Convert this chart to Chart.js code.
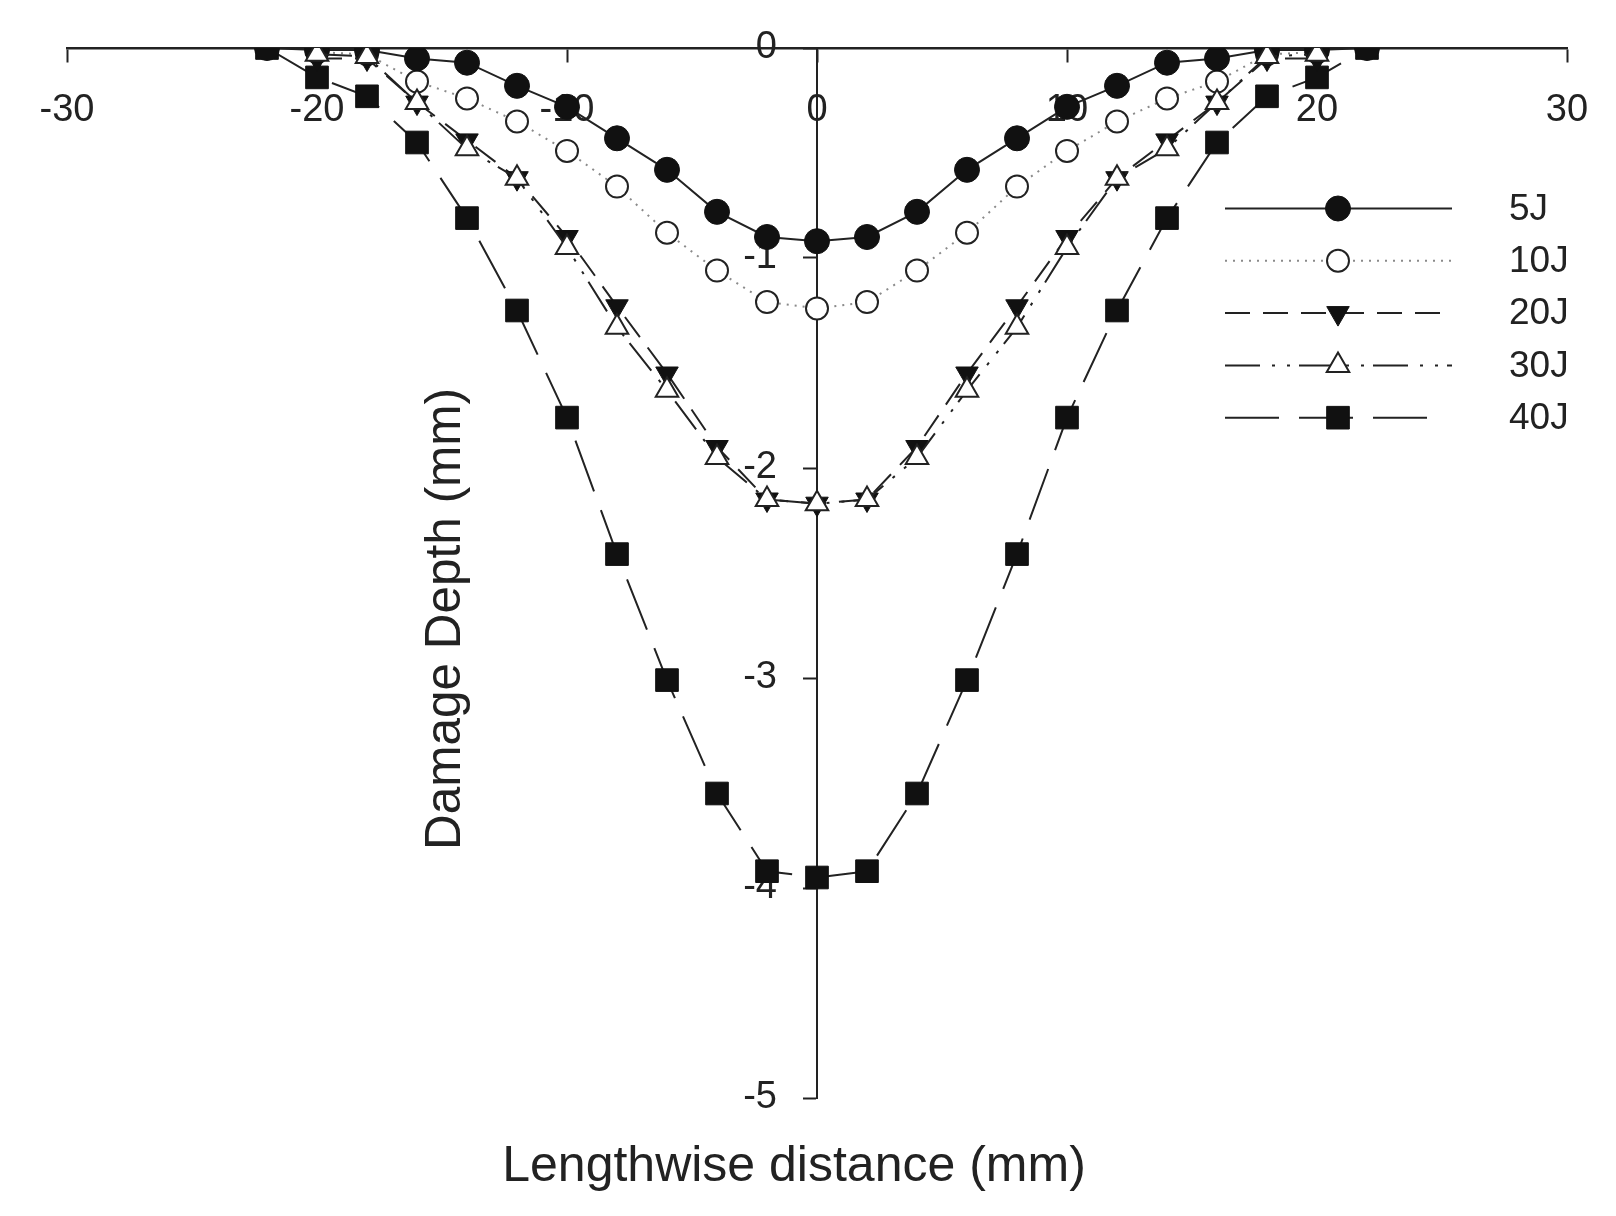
<!DOCTYPE html>
<html>
<head>
<meta charset="utf-8">
<script src="https://cdn.jsdelivr.net/npm/chart.js@4.4.1/dist/chart.umd.min.js"></script>
<style>
  html, body { margin: 0; background: #fff; }
  #wrap { position: relative; width: 1616px; height: 1216px; }
</style>
</head>
<body>
<div id="wrap"><canvas id="depthChart" width="1616" height="1216"></canvas></div>
<script>
// measured every 2 mm along the specimen
const distances = [-22, -20, -18, -16, -14, -12, -10, -8, -6, -4, -2, 0, 2, 4, 6, 8, 10, 12, 14, 16, 18, 20, 22];

const depth5J  = [0, -0.01, -0.01, -0.05, -0.07, -0.18, -0.28, -0.43, -0.58, -0.78, -0.90, -0.92, -0.90, -0.78, -0.58, -0.43, -0.28, -0.18, -0.07, -0.05, -0.01, -0.01, 0];
const depth10J = [null, -0.02, -0.03, -0.16, -0.24, -0.35, -0.49, -0.66, -0.88, -1.06, -1.21, -1.24, -1.21, -1.06, -0.88, -0.66, -0.49, -0.35, -0.24, -0.16, -0.03, -0.02, null];
const depth20J = [null, -0.05, -0.05, -0.26, -0.44, -0.62, -0.90, -1.23, -1.55, -1.90, -2.15, -2.17, -2.15, -1.90, -1.55, -1.23, -0.90, -0.62, -0.44, -0.26, -0.05, -0.05, null];
const depth30J = [null, -0.03, -0.04, -0.26, -0.48, -0.62, -0.95, -1.33, -1.63, -1.95, -2.15, -2.17, -2.15, -1.95, -1.63, -1.33, -0.95, -0.62, -0.48, -0.26, -0.04, -0.03, null];
const depth40J = [0, -0.14, -0.23, -0.45, -0.81, -1.25, -1.76, -2.41, -3.01, -3.55, -3.92, -3.95, -3.92, -3.55, -3.01, -2.41, -1.76, -1.25, -0.81, -0.45, -0.23, -0.14, 0];

const seriesLabels = ['5J', '10J', '20J', '30J', '40J'];
const xTickValues = [-30, -20, -10, 0, 10, 20, 30];
const yTickValues = [0, -1, -2, -3, -4, -5];

const FONT = '"Liberation Sans", Arial, sans-serif';
const INK = '#222';

function points(values) {
  return distances
    .map((x, i) => ({ x, y: values[i] }))
    .filter((p) => p.y !== null);
}

const datasets = [
  {
    label: seriesLabels[0], data: points(depth5J), order: 1, legendEnd: 1452,
    borderColor: INK, borderWidth: 2, borderDash: [],
    pointStyle: 'circle', pointRadius: 12.5, pointRotation: 0,
    pointBackgroundColor: '#111', pointBorderColor: '#111', pointBorderWidth: 1,
  },
  {
    label: seriesLabels[1], data: points(depth10J), order: 3, legendEnd: 1452,
    borderColor: '#8a8a8a', borderWidth: 2, borderDash: [2, 6],
    pointStyle: 'circle', pointRadius: 11, pointRotation: 0,
    pointBackgroundColor: '#fff', pointBorderColor: INK, pointBorderWidth: 2,
  },
  {
    label: seriesLabels[2], data: points(depth20J), order: 2, legendEnd: 1450,
    borderColor: INK, borderWidth: 2, borderDash: [25, 13],
    pointStyle: 'triangle', pointRadius: 13, pointRotation: 180,
    pointBackgroundColor: '#111', pointBorderColor: '#111', pointBorderWidth: 1,
  },
  {
    label: seriesLabels[3], data: points(depth30J), order: 0, legendEnd: 1452,
    borderColor: INK, borderWidth: 2, borderDash: [35, 12, 3, 12, 3, 9],
    pointStyle: 'triangle', pointRadius: 13, pointRotation: 0,
    pointBackgroundColor: '#fff', pointBorderColor: INK, pointBorderWidth: 2,
  },
  {
    label: seriesLabels[4], data: points(depth40J), order: 4, legendEnd: 1430,
    borderColor: INK, borderWidth: 2, borderDash: [54, 20],
    pointStyle: 'rect', pointRadius: 16, pointRotation: 0,
    pointBackgroundColor: '#111', pointBorderColor: '#111', pointBorderWidth: 1,
  },
];

// y tick labels are drawn here because Chart.js puts them right on the axis
// when the axis sits at x = 0
const yLabels = {
  id: 'yLabels',
  beforeDatasetsDraw(chart) {
    const { ctx, scales: { x, y } } = chart;
    const axisX = x.getPixelForValue(0);
    ctx.save();
    ctx.font = `38px ${FONT}`;
    ctx.fillStyle = INK;
    ctx.textAlign = 'right';
    ctx.textBaseline = 'middle';
    y.ticks.forEach((t) => {
      ctx.fillText(String(t.value), axisX - 40, y.getPixelForValue(t.value));
    });
    ctx.restore();
  },
};

function drawMarker(ctx, ds, cx, cy) {
  ctx.setLineDash([]);
  ctx.fillStyle = ds.pointBackgroundColor;
  ctx.strokeStyle = ds.pointBorderColor;
  ctx.lineWidth = ds.pointBorderWidth;
  Chart.helpers.drawPoint(ctx, {
    pointStyle: ds.pointStyle,
    radius: ds.pointRadius,
    rotation: ds.pointRotation,
    borderWidth: ds.pointBorderWidth,
  }, cx, cy);
}

const legendAndTitles = {
  id: 'legendAndTitles',
  afterDraw(chart) {
    const { ctx } = chart;
    ctx.save();

    // legend
    datasets.forEach((ds, i) => {
      const rowY = 208.5 + i * 52.3;
      ctx.strokeStyle = ds.borderColor;
      ctx.lineWidth = ds.borderWidth;
      ctx.setLineDash(ds.borderDash);
      ctx.beginPath();
      ctx.moveTo(1225, rowY);
      ctx.lineTo(ds.legendEnd, rowY);
      ctx.stroke();
      drawMarker(ctx, ds, 1338, rowY);
      ctx.font = `37px ${FONT}`;
      ctx.fillStyle = INK;
      ctx.textAlign = 'left';
      ctx.textBaseline = 'middle';
      ctx.fillText(ds.label, 1509, rowY + 1);
    });

    // axis titles
    ctx.font = `50px ${FONT}`;
    ctx.fillStyle = INK;
    ctx.textAlign = 'center';
    ctx.textBaseline = 'middle';
    ctx.fillText('Lengthwise distance (mm)', 794, 1167);

    ctx.font = `49.5px ${FONT}`;
    ctx.translate(446, 619);
    ctx.rotate(-Math.PI / 2);
    ctx.fillText('Damage Depth (mm)', 0, 0);
    ctx.restore();
  },
};

new Chart(document.getElementById('depthChart'), {
  type: 'scatter',
  data: { datasets: datasets.map((ds) => ({ ...ds, showLine: true, tension: 0 })) },
  options: {
    responsive: false,
    animation: false,
    devicePixelRatio: 1,
    layout: { padding: { left: 67, right: 49, top: 48, bottom: 118 } },
    plugins: { legend: { display: false }, tooltip: { enabled: false } },
    scales: {
      x: {
        type: 'linear', min: -30, max: 30,
        position: { y: 0 },
        afterBuildTicks: (scale) => { scale.ticks = xTickValues.map((v) => ({ value: v })); },
        ticks: { font: { family: FONT, size: 38 }, color: INK, padding: 27, maxRotation: 0, autoSkip: false },
        grid: { drawOnChartArea: false, drawTicks: true, tickLength: 13, tickWidth: 2, tickColor: INK },
        border: { display: true, color: INK, width: 2.5 },
      },
      y: {
        type: 'linear', min: -5, max: 0,
        position: { x: 0 },
        afterBuildTicks: (scale) => { scale.ticks = yTickValues.map((v) => ({ value: v })); },
        ticks: { display: false },
        grid: { drawOnChartArea: false, drawTicks: true, tickLength: 13, tickWidth: 2, tickColor: INK },
        border: { display: true, color: INK, width: 2 },
      },
    },
  },
  plugins: [yLabels, legendAndTitles],
});
</script>
</body>
</html>
